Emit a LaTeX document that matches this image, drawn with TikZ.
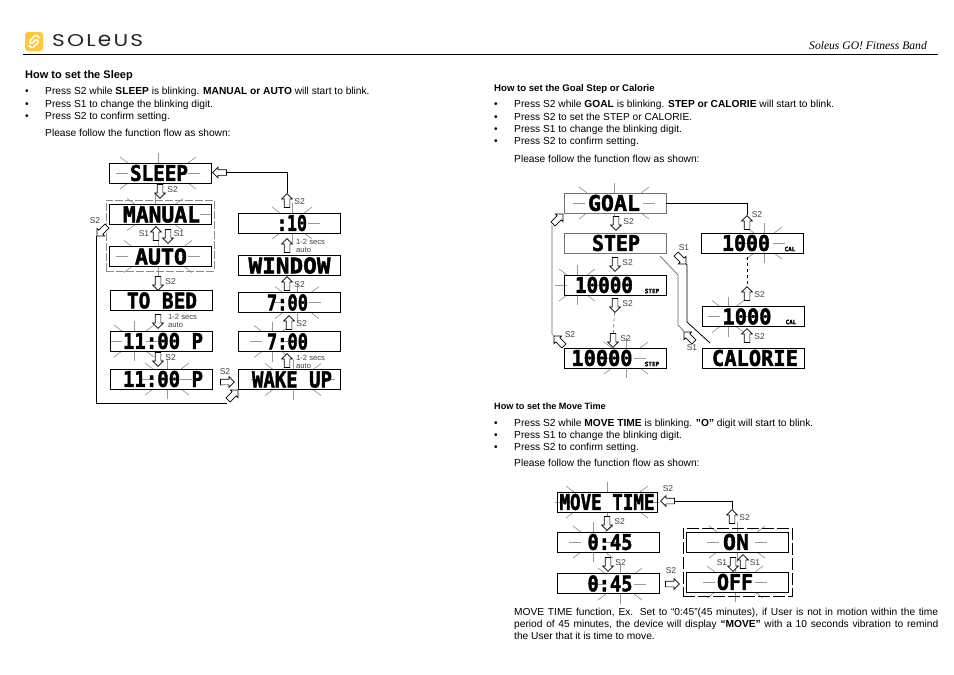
\documentclass[tikz,border=0pt]{standalone}
\usepackage{fontspec}
\usepackage{graphicx}
\setmainfont{Liberation Sans}
\newfontfamily\headfont{Liberation Serif}
\newfontfamily\lcdfont[BoldFont={DejaVu Sans Mono Bold},BoldFeatures={FakeBold=2}]{DejaVu Sans Mono}
\newfontfamily\logofont{Poppins}
\usetikzlibrary{shapes.arrows, calc}
\definecolor{logoyellow}{HTML}{FDC93A}
\newcommand{\lcd}[3][0]{\hspace*{#1pt}\resizebox{#2pt}{16pt}{\lcdfont\bfseries #3}}
\newcommand{\glow}[5][12]{
  \draw[ray] ({#2-#4},#3) -- ++(-#1,0);
  \draw[ray] ({#2+#4},#3) -- ++(12,0);
  \draw[ray] (#2,{#3-10}) -- ++(0,-10);
  \draw[ray] (#2,{#3+10}) -- ++(0,10);
  \draw[ray] ({#2-#5},{#3-10}) -- ++(-8,-6);
  \draw[ray] ({#2+#5},{#3-10}) -- ++(8,-6);
  \draw[ray] ({#2-#5},{#3+10}) -- ++(-8,6);
  \draw[ray] ({#2+#5},{#3+10}) -- ++(8,6);
}
\tikzset{
  lcdbox/.style={
    rectangle,
    draw,
    line width=0.9pt,
    minimum width=102pt,
    minimum height=20pt,
    inner sep=0pt
  },
  lcdpale/.style={lcdbox, draw=black!55},
  ray/.style={black!40, line width=0.7pt},
  blockarrow/.style={
    single arrow,
    draw,
    fill=white,
    line width=0.7pt,
    minimum height=14pt,
    minimum width=0pt,
    single arrow head extend=2.5pt,
    inner sep=2.5pt,
    shape border rotate=#1
  },
  slantarrow/.style={blockarrow=0, rotate=#1},
  keylabel/.style={font=\fontsize{8.5}{8.5}\selectfont, text=black!75, inner sep=1pt, label distance=3pt},
  autolabel/.style={keylabel, anchor=west, align=left, font=\fontsize{7.6}{7.4}\selectfont},
  wire/.style={line width=0.8pt},
  palewire/.style={line width=0.7pt, black!60},
  helptext/.style={font=\fontsize{10.2}{12}\selectfont, anchor=base west, inner sep=0pt},
  helptitle/.style={helptext, font=\fontsize{#1}{12}\selectfont\bfseries},
  tinytag/.style={font=\lcdfont\bfseries\fontsize{6}{6}\selectfont, inner sep=0pt}
}
\begin{document}
\begin{tikzpicture}[x=1pt, y=-1pt]
  \useasboundingbox (0,0) rectangle (954,675);

  % page head
  \node[rectangle, rounded corners=3pt, fill=logoyellow, minimum width=18pt, minimum height=19pt, inner sep=0pt] (logomark) at (34,41.5) {};
  \draw[white, line width=1.5pt, rounded corners=1.5pt] (39.5,38) -- (36,34.5) -- (29,41.5) -- (31.5,44) -- (36.5,39) -- (39,41.5) -- (32,48.5) -- (28.5,45);
  \node[inner sep=0pt, anchor=west, text=black!85] (logoname) at (52,41) {\resizebox{91pt}{12pt}{\logofont S\kern1pt O\kern1pt L\kern1pt\scalebox{1}[1.2]{e}\kern1pt U\kern1pt S}};
  \node[anchor=base east, inner sep=0pt, font=\headfont\itshape\fontsize{11.6}{12}\selectfont] (bandname) at (927,49) {Soleus GO! Fitness Band};
  \coordinate (ruleA) at (23,54.5);
  \coordinate (ruleB) at (938,54.5);
  \draw[line width=0.8pt] (ruleA) -- (ruleB);

  % sleep text
  \node[helptitle=11] (sleephead) at (25,78) {How to set the Sleep};
  \foreach \ypos/\body in {
    94/{Press S2 while \textbf{SLEEP} is blinking. \textbf{MANUAL or AUTO} will start to blink.},
    107/{Press S1 to change the blinking digit.},
    119/{Press S2 to confirm setting.}} {
    \node[helptext] at (25,\ypos) {•};
    \node[helptext] at (45,\ypos) {\body};
  }
  \node[helptext] (sleepflow) at (45,136) {Please follow the function flow as shown:};

  % goal text
  \node[helptitle=9.6] (goalhead) at (494,91) {How to set the Goal Step or Calorie};
  \foreach \ypos/\body in {
    107/{Press S2 while \textbf{GOAL} is blinking. \textbf{STEP or CALORIE} will start to blink.},
    120/{Press S2 to set the STEP or CALORIE.},
    132/{Press S1 to change the blinking digit.},
    144/{Press S2 to confirm setting.}} {
    \node[helptext] at (494,\ypos) {•};
    \node[helptext] at (514,\ypos) {\body};
  }
  \node[helptext] (goalflow) at (514,162) {Please follow the function flow as shown:};

  % move text
  \node[helptitle=9.1] (movehead) at (494,409) {How to set the Move Time};
  \foreach \ypos/\body in {
    426/{Press S2 while \textbf{MOVE TIME} is blinking. \textbf{”O”} digit will start to blink.},
    438/{Press S1 to change the blinking digit.},
    450/{Press S2 to confirm setting.}} {
    \node[helptext] at (494,\ypos) {•};
    \node[helptext] at (514,\ypos) {\body};
  }
  \node[helptext] (moveflow) at (514,466) {Please follow the function flow as shown:};
  \node[helptext, anchor=north west, text width=424pt, align=justify] (movenote) at (514,607.5)
        {MOVE TIME function, Ex. Set to “0:45”(45 minutes), if User is not in motion within the time period of 45 minutes, the device will display \textbf{“MOVE”} with a 10 seconds vibration to remind\linebreak the User that it is time to move.};

  % sleep flow
  \glow{158}{173}{30}{30}
  \glow[0]{155}{214.5}{45}{20}
  \glow{158}{256.5}{30}{26}
  \glow[0]{292}{223}{16}{12}
  \glow{134}{341}{12}{12}
  \glow{167}{379}{13}{14}
  \glow{297}{302.5}{12}{14}
  \glow{272}{341.5}{10}{10}
  \glow{293}{379.5}{30}{20}

  \node[lcdbox] (sleep) at (160,173) {\lcd[-2]{58}{SLEEP}};
  \node[lcdbox] (manual) at (160,214.5) {\lcd[3]{77}{MANUAL}};
  \node[lcdbox] (auto) at (160,256.5) {\lcd[2]{52}{AUTO}};
  \node[lcdbox] (tobed) at (161,300.5) {\lcd[2]{70}{TO BED}};
  \node[lcdbox] (bedtime) at (161,341) {\lcd[4]{80}{11:00 P}};
  \node[lcdbox] (bedmin) at (161,379) {\lcd[4]{80}{11:00 P}};
  \node[lcdbox] (ten) at (289.5,223) {\lcd[5]{30}{:10}};
  \node[lcdbox] (window) at (289.5,265.5) {\lcd{82}{WINDOW}};
  \node[lcdbox] (wakemin) at (289.5,302.5) {\lcd[-4]{41}{7:00}};
  \node[lcdbox] (wakehour) at (289.5,341.5) {\lcd[-4]{41}{7:00}};
  \node[lcdbox] (wakeup) at (289.5,379.5) {\lcd[5]{80}{WAKE UP}};
  \node[rectangle, draw=black!45, dash pattern=on 8pt off 2pt, line width=0.7pt, minimum width=108pt, minimum height=71pt] (sleepgroup) at (160,235.5) {};

  \node[blockarrow=270, label={[keylabel]right:S2}] (sleepdown) at (160,190) {};
  \node[blockarrow=90] (modeup) at (156,235) {};
  \node[keylabel] (modeleft) at (144,234) {S1};
  \node[blockarrow=270] (modedown) at (168,235) {};
  \node[keylabel] (moderight) at (179,234) {S1};
  \node[blockarrow=270, label={[keylabel]right:S2}] (autodown) at (158,282) {};
  \node[blockarrow=270] (beddown) at (158,320) {};
  \node[autolabel] (bedauto) at (167,321) {1-2 secs\\auto};
  \node[blockarrow=270, label={[keylabel]right:S2}] (timedown) at (158,358) {};
  \node[blockarrow=0] (wakeright) at (226,382) {};
  \node[keylabel] (wakekey) at (225,372) {S2};
  \node[blockarrow=90] (wakeupup) at (287,362) {};
  \node[autolabel] (wakeauto) at (295,362) {1-2 secs\\auto};
  \node[blockarrow=90, label={[keylabel]right:S2}] (hourup) at (289,324) {};
  \node[blockarrow=90, label={[keylabel]right:S2}] (minup) at (287,285) {};
  \node[blockarrow=90] (windowup) at (287,247) {};
  \node[autolabel] (windowauto) at (295,246) {1-2 secs\\auto};
  \node[blockarrow=90, label={[keylabel]right:S2}] (tenup) at (287,202) {};
  \node[blockarrow=180] (sleepback) at (221,172.5) {};
  \node[slantarrow=225] (loopstart) at (103,230) {};
  \node[keylabel] (loopkey) at (95,221) {S2};
  \node[slantarrow=45] (loopend) at (232,396) {};

  \draw[wire] (tenup) |- (sleepback);
  \coordinate (looptop) at (96,236);
  \coordinate (loopfoot) at (227,403);
  \draw[wire] (looptop) |- (loopfoot);

  % goal flow
  \glow{614}{203}{29}{27}
  \glow{577}{285}{10}{10}
  \glow{626}{358}{8}{14}
  \glow{764}{243}{9}{10}
  \glow{728}{316.5}{8}{8}

  \node[lcdpale] (goal) at (615,203) {\lcd[-2]{52}{GOAL}};
  \node[lcdpale] (steps) at (615,243) {\lcd[2]{48}{STEP}};
  \node[lcdbox] (stepa) at (615,285) {\lcd[-22]{58}{10000}};
  \node[lcdbox] (stepb) at (615,358) {\lcd[-26]{61}{10000}};
  \node[lcdbox] (calb) at (752.5,243) {\lcd[-13]{48}{1000}};
  \node[lcdbox] (cala) at (753.5,316.5) {\lcd[-13]{49}{1000}};
  \node[lcdbox] (calorie) at (753.5,358) {\lcd[3]{86}{CALORIE}};
  \node[tinytag] (stepatag) at (652,291) {STEP};
  \node[tinytag] (stepbtag) at (652,364) {STEP};
  \node[tinytag] (calbtag) at (790,249) {CAL};
  \node[tinytag] (calatag) at (791,322) {CAL};

  \node[blockarrow=270, label={[keylabel]right:S2}] (goaldown) at (616,222) {};
  \node[blockarrow=270, label={[keylabel]right:S2}] (stepdown) at (615,263) {};
  \node[blockarrow=270, label={[keylabel]right:S2}] (stepadown) at (615,304) {};
  \node[blockarrow=270, label={[keylabel]right:S2}] (stepbdown) at (613,339) {};
  \node[blockarrow=90] (calbup) at (747,224) {};
  \node[keylabel] (calbkey) at (757,215) {S2};
  \node[blockarrow=90, label={[keylabel]right:S2}] (calaup) at (747,295) {};
  \node[blockarrow=90, label={[keylabel]right:S2}] (calorieup) at (747,337) {};
  \node[slantarrow=45] (backtop) at (557,220) {};
  \node[slantarrow=135] (backfoot) at (560,342) {};
  \node[keylabel] (backkey) at (570,335) {S2};
  \node[slantarrow=315] (swapin) at (680,258) {};
  \node[keylabel] (swapinkey) at (684,248) {S1};
  \node[slantarrow=135] (swapout) at (690,338) {};
  \node[keylabel] (swapoutkey) at (692,348) {S1};

  \draw[wire] (goal.east) -| (calbup);
  \draw[wire, dashed] (calb.south -| calbup) ++(0,4) coordinate (calgapa) -- (calaup);
  \draw[palewire, dashed] (stepadown) -- (stepbdown);
  \coordinate (backside) at (552,225);
  \coordinate (backturn) at (552,334);
  \draw[palewire] (backside) -- (backturn) -- (backfoot);
  \coordinate (swapa) at (660,256);
  \coordinate (swapb) at (678,275);
  \coordinate (swapc) at (678,325);
  \draw[palewire] (swapa) -- (swapb) -- (swapc) -- (swapout);
  \coordinate (swapd) at (687,265);
  \coordinate (swape) at (687,322);
  \coordinate (swapf) at (710,343);
  \draw[wire] (swapin) -- (swapd) -- (swape) -- (swapf);

  % move flow
  \glow{607}{502}{40}{33}
  \glow{593}{542}{12}{12}
  \glow{620}{584}{14}{14}
  \glow{737}{542}{18}{20}
  \glow{735}{582}{20}{20}

  \node[lcdbox, minimum width=100pt] (movetime) at (607,502) {\lcd{95}{MOVE TIME}};
  \node[lcdbox] (moveh) at (608,542) {\lcd[4]{45}{0:45}};
  \node[lcdbox] (movem) at (608,583.5) {\lcd[4]{45}{0:45}};
  \node[lcdbox] (moveon) at (737.5,542) {\lcd[-3]{26}{ON}};
  \node[lcdbox] (moveoff) at (737.5,582) {\lcd[-5]{36}{OFF}};
  \node[rectangle, draw, dash pattern=on 12pt off 3pt, line width=0.8pt, minimum width=109pt, minimum height=68pt] (movegroup) at (737.5,562) {};

  \node[blockarrow=270, label={[keylabel]right:S2}] (movedown) at (607,522) {};
  \node[blockarrow=270, label={[keylabel]right:S2}] (hourdown) at (608,563) {};
  \node[blockarrow=0] (offright) at (671,584) {};
  \node[keylabel] (offkey) at (671,571) {S2};
  \node[blockarrow=90, label={[keylabel]right:S2}] (onup) at (732,518) {};
  \node[blockarrow=180] (moveback) at (669,501) {};
  \node[keylabel] (movekey) at (668,489) {S2};
  \node[blockarrow=270] (toggledown) at (733,563) {};
  \node[keylabel] (toggleleft) at (722,563) {S1};
  \node[blockarrow=90] (toggleup) at (743,563) {};
  \node[keylabel] (toggleright) at (755,563) {S1};

  \draw[wire] (onup) |- (moveback);
\end{tikzpicture}
\end{document}
